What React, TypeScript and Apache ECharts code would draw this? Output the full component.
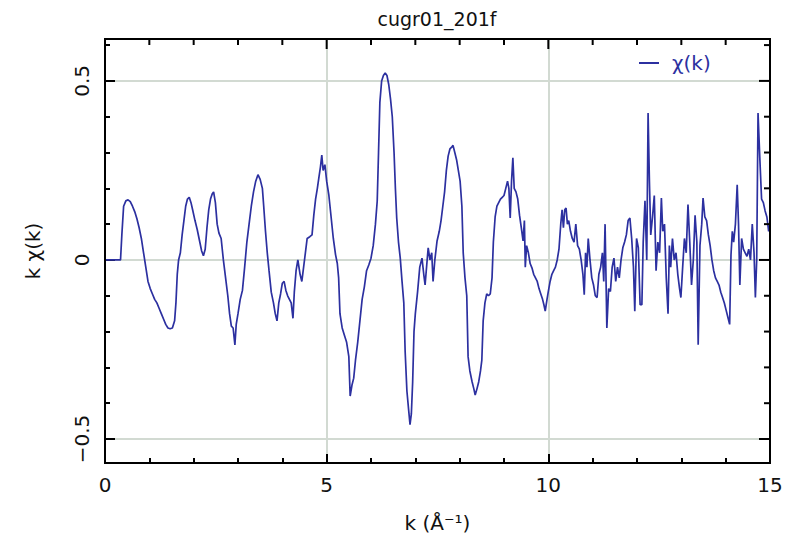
import React, { useEffect, useRef } from "react";
import * as echarts from "echarts";

// k grid (Å^-1) and k·χ(k), split into three ranges
const kLow = [
  0, 0.35, 0.38, 0.42, 0.47, 0.52, 0.57, 0.62, 0.67, 0.72,
  0.77, 0.82, 0.87, 0.92, 0.97, 1.02, 1.07, 1.12, 1.17, 1.22,
  1.27, 1.32, 1.37, 1.42, 1.47, 1.52,
  1.57, 1.6, 1.63, 1.66, 1.7, 1.74, 1.78, 1.82, 1.86, 1.9,
  1.94, 1.98, 2.03, 2.08, 2.13, 2.18, 2.22, 2.26, 2.3, 2.34,
  2.38, 2.42, 2.45, 2.49, 2.53, 2.57, 2.62, 2.67, 2.72, 2.77,
  2.81, 2.85, 2.89, 2.93, 2.96, 3.0,
  3.05, 3.1, 3.15, 3.2, 3.25, 3.3, 3.35, 3.4, 3.45, 3.5,
  3.55, 3.58, 3.62, 3.66, 3.7, 3.75, 3.8, 3.84, 3.88, 3.92,
  3.96, 4.0, 4.04, 4.08, 4.12, 4.16, 4.2, 4.24, 4.27, 4.31,
  4.35, 4.4, 4.44, 4.48, 4.52, 4.56, 4.62, 4.67, 4.71, 4.75,
  4.79, 4.83, 4.86, 4.89, 4.92, 4.96, 5.0,
];
const chiLow = [
  0, 0, 0.07, 0.15, 0.165, 0.168, 0.163, 0.15, 0.135, 0.115,
  0.09, 0.06, 0.02, -0.02, -0.06, -0.08, -0.095, -0.11, -0.12, -0.135,
  -0.15, -0.165, -0.18, -0.19, -0.192, -0.19,
  -0.17, -0.12, -0.04, 0.0, 0.02, 0.07, 0.11, 0.15, 0.17, 0.175,
  0.16, 0.138, 0.11, 0.085, 0.055, 0.025, 0.012, 0.03, 0.09, 0.14,
  0.17, 0.185, 0.19, 0.16, 0.1, 0.075, 0.06, 0.0, -0.05, -0.1,
  -0.15, -0.185, -0.19, -0.237, -0.18, -0.15,
  -0.11, -0.085, -0.02, 0.05, 0.1, 0.15, 0.19, 0.22, 0.238, 0.225,
  0.2, 0.15, 0.08, 0.02, -0.03, -0.09, -0.12, -0.15, -0.17, -0.12,
  -0.095, -0.065, -0.06, -0.085, -0.1, -0.11, -0.12, -0.163, -0.09, -0.03,
  0.0, -0.04, -0.06, -0.02, 0.02, 0.06, 0.065, 0.07, 0.125, 0.17,
  0.2, 0.235, 0.26, 0.293, 0.25, 0.266, 0.22,
];

const kMid = [
  5.05, 5.1, 5.15, 5.2, 5.24, 5.27, 5.3, 5.35, 5.4, 5.45,
  5.5, 5.53, 5.57, 5.61, 5.65, 5.7, 5.75, 5.8, 5.85, 5.9,
  5.95, 6.0, 6.05, 6.1, 6.14, 6.17, 6.2, 6.24, 6.28, 6.32,
  6.36, 6.4, 6.44, 6.48, 6.52, 6.55, 6.58, 6.62, 6.66, 6.7,
  6.74, 6.77, 6.81, 6.85, 6.88, 6.91, 6.94, 6.97, 7.0,
  7.05, 7.1, 7.15, 7.19, 7.22, 7.26, 7.29, 7.33, 7.37, 7.4,
  7.44, 7.49, 7.54, 7.58, 7.62, 7.66, 7.7, 7.74, 7.78, 7.82,
  7.85, 7.89, 7.93, 7.97, 8.01, 8.05, 8.08, 8.12, 8.16, 8.19,
  8.23, 8.28, 8.32, 8.35, 8.39, 8.43, 8.47, 8.5,
  8.53, 8.57, 8.61, 8.65, 8.69, 8.73, 8.76, 8.8, 8.84, 8.88,
  8.92, 8.96, 9.0, 9.04, 9.08, 9.11, 9.14, 9.17, 9.2, 9.23,
  9.27, 9.31, 9.35, 9.39, 9.43, 9.46, 9.48, 9.51, 9.55, 9.59,
  9.63, 9.67, 9.71, 9.75, 9.79, 9.83, 9.87, 9.9, 9.93, 9.97,
  10.0,
];
const chiMid = [
  0.18, 0.12, 0.06, 0.015, -0.01, -0.05, -0.15, -0.19, -0.21, -0.23,
  -0.27, -0.38, -0.35, -0.33, -0.28, -0.23, -0.17, -0.11, -0.075, -0.03,
  -0.014, 0.005, 0.04, 0.1, 0.164, 0.3, 0.44, 0.5, 0.515, 0.522,
  0.515, 0.49, 0.45, 0.4, 0.3, 0.2, 0.117, 0.05, 0.005, -0.06,
  -0.12, -0.255, -0.366, -0.42, -0.46, -0.43, -0.34, -0.2, -0.15,
  -0.09, -0.02, 0.005, -0.04, -0.07, -0.01, 0.034, 0.0, 0.02, -0.06,
  0.0, 0.053, 0.08, 0.11, 0.15, 0.19, 0.25, 0.29, 0.31, 0.315,
  0.32, 0.3, 0.28, 0.25, 0.22, 0.15, 0.02, -0.05, -0.1, -0.27,
  -0.31, -0.34, -0.36, -0.377, -0.36, -0.34, -0.31, -0.28,
  -0.17, -0.12, -0.095, -0.1, -0.095, -0.05, 0.05, 0.12, 0.15, 0.16,
  0.17, 0.175, 0.18, 0.2, 0.22, 0.2, 0.117, 0.22, 0.285, 0.2,
  0.19, 0.17, 0.125, 0.09, 0.053, 0.11, -0.02, 0.04, 0.02, -0.01,
  -0.022, -0.04, -0.05, -0.06, -0.08, -0.095, -0.11, -0.125, -0.143, -0.11,
  -0.088,
];

const kHigh = [
  10.04, 10.08, 10.12, 10.16, 10.2, 10.24, 10.28, 10.31, 10.34, 10.37,
  10.4, 10.43, 10.46, 10.5, 10.54, 10.58, 10.62, 10.66, 10.7, 10.74,
  10.78, 10.81, 10.84, 10.87, 10.9, 10.94, 10.98, 11.02, 11.06, 11.1,
  11.14, 11.18, 11.22, 11.25, 11.28, 11.32, 11.36, 11.4, 11.44, 11.48,
  11.52, 11.56, 11.6, 11.64, 11.68, 11.72, 11.76, 11.8, 11.84, 11.88,
  11.92, 11.95, 11.99, 12.03, 12.07, 12.11, 12.14, 12.18, 12.22, 12.25,
  12.28, 12.31, 12.35, 12.39, 12.43, 12.47, 12.51,
  12.55, 12.58, 12.62, 12.66, 12.7, 12.73, 12.76, 12.8, 12.84, 12.88,
  12.92, 12.96, 12.99, 13.03, 13.07, 13.11, 13.15, 13.19, 13.23, 13.27,
  13.31, 13.35, 13.38, 13.42, 13.46, 13.49, 13.53, 13.57, 13.61, 13.65,
  13.69, 13.73, 13.77, 13.81, 13.85, 13.89, 13.93, 13.97, 14.01, 14.05,
  14.09, 14.12, 14.15, 14.18, 14.22, 14.26, 14.29, 14.32, 14.36, 14.4,
  14.44, 14.48, 14.52, 14.56, 14.6, 14.64, 14.67, 14.7, 14.73, 14.77,
  14.81, 14.85, 14.89, 14.93, 14.97, 15.0,
];
const chiHigh = [
  -0.06, -0.04, -0.03, -0.02, 0.0, 0.03, 0.1, 0.14, 0.09, 0.14,
  0.145, 0.1, 0.11, 0.08, 0.06, 0.05, 0.1, 0.04, 0.03, 0.0,
  -0.04, -0.097, 0.02, -0.02, 0.06, 0.0, -0.05, -0.07, -0.1, -0.105,
  -0.04, -0.02, 0.02, -0.06, 0.1, -0.19, -0.08, -0.088, -0.02, 0.005,
  -0.06, -0.02, -0.05, 0.0, 0.034, 0.05, 0.07, 0.11, 0.117, 0.06,
  -0.02, -0.143, 0.06, 0.034, -0.125, -0.125, 0.05, 0.165, 0.0, 0.41,
  0.22, 0.07, 0.12, 0.18, -0.03, 0.05, 0.02,
  0.173, 0.08, 0.1, -0.05, -0.15, 0.04, -0.02, 0.06, 0.0, 0.02,
  -0.04, -0.08, -0.105, -0.02, 0.06, 0.02, 0.155, 0.05, -0.07, 0.0,
  0.125, 0.05, -0.237, 0.04, 0.1, 0.173, 0.12, 0.11, 0.07, 0.04,
  0.0, -0.03, -0.05, -0.06, -0.07, -0.09, -0.105, -0.12, -0.14, -0.16,
  -0.18, 0.014, 0.08, 0.05, 0.1, 0.21, 0.1, -0.07, 0.06, 0.03,
  0.02, 0.01, 0.03, 0.0, 0.1, 0.02, -0.105, 0.0, 0.41, 0.285,
  0.17, 0.16, 0.137, 0.12, 0.08, 0.1,
];

const TITLE = "cugr01_201f";
const SERIES_NAME = "χ(k)";
const X_NAME = "k (Å⁻¹)";
const Y_NAME = "k χ(k)";
const X_MIN = 0;
const X_MAX = 15;
const X_STEP = 5;
const Y_MIN = -0.567;
const Y_MAX = 0.617;
const Y_LABELS = [-0.5, 0, 0.5];

// Tick positions mirrored on the top and right edges of the frame
const X_TICKS = [1, 2, 3, 4, 5, 6, 7, 8, 9, 10, 11, 12, 13, 14];
const X_MAJOR = [5, 10];
const Y_TICKS = [-0.5, -0.4, -0.3, -0.2, -0.1, 0, 0.1, 0.2, 0.3, 0.4, 0.5, 0.6];

const FONT = "DejaVu Sans";
const INK = "#111111";
const GRID = "#d2dad2";
const LINE = "#2c30a0";

function yLabel(v: number): string {
  const hit = Y_LABELS.find((t) => Math.abs(t - v) < 1e-6);
  if (hit === undefined) return "";
  return hit < 0 ? "\u2212" + String(-hit) : String(hit);
}

const tickStyle = () => ({ color: "#000", width: 2 });
const gridLine = () => ({
  show: true,
  showMinLine: false,
  showMaxLine: false,
  lineStyle: { color: GRID, width: 2 },
});

// Box around the plot with ticks on the top and right edges, placed via api.coord
function renderFrame(_params: any, api: any) {
  const [x0, yTop] = api.coord([X_MIN, Y_MAX]);
  const [x1, yBot] = api.coord([X_MAX, Y_MIN]);
  const seg = (xa: number, ya: number, xb: number, yb: number) => ({
    type: "line",
    shape: { x1: xa, y1: ya, x2: xb, y2: yb },
    style: { stroke: "#000", lineWidth: 2, lineCap: "square" },
  });
  const children: any[] = [
    seg(x0, yTop, x1, yTop),
    seg(x1, yTop, x1, yBot),
    seg(x0, yBot, x1, yBot),
    seg(x0, yTop, x0, yBot),
  ];
  X_TICKS.forEach((t) => {
    const px = api.coord([t, Y_MAX])[0];
    const len = X_MAJOR.includes(t) ? 9 : 5;
    children.push(seg(px, yTop, px, yTop + len));
  });
  Y_TICKS.forEach((t) => {
    const py = api.coord([X_MAX, t])[1];
    const len = Y_LABELS.some((m) => Math.abs(m - t) < 1e-6) ? 10 : 5;
    children.push(seg(x1, py, x1 - len, py));
  });
  return { type: "group", children };
}

export default function App() {
  const ref = useRef<HTMLDivElement>(null);

  useEffect(() => {
    if (!ref.current) return;
    const chart = echarts.init(ref.current, null, { renderer: "svg" });

    const k = [...kLow, ...kMid, ...kHigh];
    const chi = [...chiLow, ...chiMid, ...chiHigh];
    const data = k.map((x, i) => [x, chi[i]]);

    chart.setOption({
      animation: false,
      backgroundColor: "#ffffff",
      grid: { left: 105, right: 17, top: 39, bottom: 76, containLabel: false },
      xAxis: [
        {
          type: "value",
          position: "bottom",
          min: X_MIN,
          max: X_MAX,
          interval: X_STEP,
          axisLine: { show: false, onZero: false },
          axisTick: { show: true, inside: true, length: 9, lineStyle: tickStyle() },
          minorTick: { show: true, splitNumber: 5, length: 5, lineStyle: tickStyle() },
          axisLabel: { show: true, margin: 12, fontSize: 20, fontFamily: FONT, color: INK },
          splitLine: gridLine(),
          name: X_NAME,
          nameLocation: "middle",
          nameGap: 50,
          nameTextStyle: { fontSize: 20, fontFamily: FONT, color: INK },
        },
      ],
      yAxis: [
        {
          type: "value",
          position: "left",
          min: Y_MIN,
          max: Y_MAX,
          splitNumber: 2,
          axisLine: { show: false, onZero: false },
          axisTick: { show: true, inside: true, length: 10, lineStyle: tickStyle() },
          axisLabel: {
            show: true,
            rotate: 90,
            margin: 13,
            fontSize: 20,
            fontFamily: FONT,
            color: INK,
            showMinLabel: false,
            showMaxLabel: false,
            formatter: (v: number) => yLabel(v),
          },
          splitLine: gridLine(),
          name: Y_NAME,
          nameLocation: "middle",
          nameRotate: 90,
          nameGap: 62,
          nameTextStyle: { fontSize: 20, fontFamily: FONT, color: INK },
        },
        {
          type: "value",
          position: "left",
          min: Y_MIN,
          max: Y_MAX,
          splitNumber: 12,
          axisLine: { show: false, onZero: false },
          axisTick: { show: true, inside: true, length: 5, lineStyle: tickStyle() },
          axisLabel: { show: false },
          splitLine: { show: false },
        },
      ],
      legend: {
        data: [SERIES_NAME],
        left: 634,
        top: 48,
        icon: "rect",
        itemWidth: 20,
        itemHeight: 2,
        textStyle: { color: LINE, fontSize: 20, fontFamily: FONT, padding: [0, 0, 0, 8] },
      },
      graphic: [
        {
          type: "text",
          x: 437,
          y: 19,
          style: {
            text: TITLE,
            fill: INK,
            fontSize: 19,
            fontFamily: FONT,
            align: "center",
            verticalAlign: "middle",
          },
        },
      ],
      series: [
        {
          name: SERIES_NAME,
          type: "line",
          xAxisIndex: 0,
          yAxisIndex: 0,
          data,
          symbol: "none",
          showSymbol: false,
          clip: true,
          itemStyle: { color: LINE },
          lineStyle: { color: LINE, width: 1.7 },
        },
        {
          name: "frame",
          type: "custom",
          xAxisIndex: 0,
          yAxisIndex: 0,
          data: [[X_MIN, Y_MIN]],
          renderItem: renderFrame,
          clip: false,
          silent: true,
          z: 10,
        },
      ],
    });

    return () => chart.dispose();
  }, []);

  return (
    <div
      ref={ref}
      style={{ position: "absolute", left: 0, top: 0, width: 787, height: 539, background: "#fff" }}
    />
  );
}
